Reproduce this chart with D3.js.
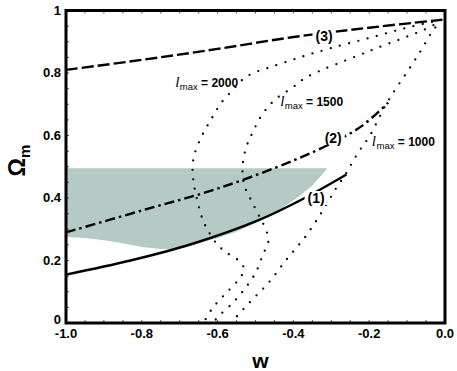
<!DOCTYPE html>
<html>
<head>
<meta charset="utf-8">
<script src="https://cdn.jsdelivr.net/npm/d3@7"></script>
<style>
  body { margin: 0; background: #fff; }
  svg text { font-family: "Liberation Sans", Arial, Helvetica, sans-serif; }
</style>
</head>
<body>
<div id="chart"></div>
<script>
// Tick values
const xTicks = [-1.0, -0.8, -0.6, -0.4, -0.2, 0.0];
const yTicks = [0, 0.2, 0.4, 0.6, 0.8, 1];

// Shaded allowed region (w, lower Omega_m), flat top
const shadeW   = [-1, -0.95, -0.9, -0.85, -0.8, -0.75, -0.7, -0.65, -0.6, -0.55, -0.5, -0.45, -0.42, -0.38, -0.35, -0.33, -0.31];
const shadeLow = [0.275, 0.272, 0.265, 0.255, 0.243, 0.237, 0.238, 0.255, 0.272, 0.292, 0.32, 0.35, 0.375, 0.41, 0.44, 0.467, 0.495];
const shadeTop = 0.495;

// Model curves [w, Omega_m]
const curve1 = [[-1, 0.155], [-0.83, 0.2], [-0.67, 0.252], [-0.49, 0.33], [-0.37, 0.4], [-0.26, 0.475]];
const curve2 = [[-1, 0.29], [-0.8, 0.36], [-0.6, 0.43], [-0.4, 0.52], [-0.3, 0.575], [-0.22, 0.63], [-0.15, 0.705]];
const curve3 = [[-1, 0.81], [-0.8, 0.842], [-0.6, 0.877], [-0.4, 0.915], [-0.2, 0.945], [-0.01, 0.97]];

// l_max contours [w, Omega_m]
const lmax2000 = [[-0.01, 0.97], [-0.1, 0.945], [-0.2, 0.912], [-0.3, 0.88], [-0.37, 0.855], [-0.42, 0.835], [-0.47, 0.815],
  [-0.51, 0.798], [-0.535, 0.778], [-0.555, 0.752], [-0.59, 0.705], [-0.615, 0.656], [-0.64, 0.602], [-0.66, 0.544],
  [-0.666, 0.5], [-0.663, 0.448], [-0.652, 0.384], [-0.639, 0.33], [-0.625, 0.295], [-0.6, 0.25], [-0.575, 0.224],
  [-0.545, 0.2], [-0.53, 0.172], [-0.545, 0.138], [-0.58, 0.093], [-0.615, 0.045], [-0.637, 0]];
const lmax1500 = [[-0.01, 0.97], [-0.04, 0.947], [-0.2, 0.87], [-0.364, 0.787], [-0.404, 0.752], [-0.449, 0.714],
  [-0.483, 0.666], [-0.507, 0.611], [-0.525, 0.56], [-0.534, 0.5], [-0.53, 0.442], [-0.509, 0.387], [-0.488, 0.336],
  [-0.473, 0.3], [-0.466, 0.262], [-0.48, 0.22], [-0.5, 0.16], [-0.533, 0.102], [-0.565, 0.058], [-0.602, 0.016], [-0.61, 0]];
const lmax1000 = [[-0.01, 0.97], [-0.035, 0.93], [-0.066, 0.867], [-0.1, 0.803], [-0.137, 0.736], [-0.16, 0.69],
  [-0.198, 0.6], [-0.23, 0.544], [-0.259, 0.483], [-0.29, 0.426], [-0.325, 0.355], [-0.369, 0.275], [-0.417, 0.205],
  [-0.464, 0.131], [-0.517, 0.064], [-0.565, 0]];

// Labels: text, anchor in data coords
const curveLabels = [
  { text: "(1)", w: -0.34, om: 0.384 },
  { text: "(2)", w: -0.295, om: 0.576 },
  { text: "(3)", w: -0.319, om: 0.902 }
];
const lmaxLabels = [
  { value: "2000", w: -0.712, om: 0.755 },
  { value: "1500", w: -0.435, om: 0.694 },
  { value: "1000", w: -0.193, om: 0.566 }
];

const width = 457, height = 371;
const margin = { top: 10.5, right: 12, bottom: 48, left: 66 };

const svg = d3.select("#chart").append("svg")
  .attr("width", width)
  .attr("height", height);

const x = d3.scaleLinear().domain([-1, 0]).range([margin.left, width - margin.right]);
const y = d3.scaleLinear().domain([0, 1]).range([height - margin.bottom, margin.top]);

// shaded region
const shade = shadeW.map((w, i) => ({ w: w, lo: shadeLow[i] }));
svg.append("path")
  .datum(shade)
  .attr("fill", "#b5cac5")
  .attr("d", d3.area().x(d => x(d.w)).y0(d => y(d.lo)).y1(y(shadeTop)));

const smooth = d3.line().x(d => x(d[0])).y(d => y(d[1])).curve(d3.curveCatmullRom.alpha(0.5));

// dotted l_max contours
[lmax2000, lmax1500, lmax1000].forEach(c => {
  svg.append("path")
    .attr("d", smooth(c))
    .attr("fill", "none")
    .attr("stroke", "#000")
    .attr("stroke-width", 2.3)
    .attr("stroke-linecap", "round")
    .attr("stroke-dasharray", "0,9.5");
});

// model curves
svg.append("path").attr("d", smooth(curve1)).attr("fill", "none")
  .attr("stroke", "#000").attr("stroke-width", 2.4);
svg.append("path").attr("d", smooth(curve2)).attr("fill", "none")
  .attr("stroke", "#000").attr("stroke-width", 2.4)
  .attr("stroke-dasharray", "10,4,2.5,4");
svg.append("path").attr("d", smooth(curve3)).attr("fill", "none")
  .attr("stroke", "#000").attr("stroke-width", 2.4)
  .attr("stroke-dasharray", "12,4");

// curve labels with white backing
curveLabels.forEach(l => {
  const g = svg.append("g");
  const t = g.append("text")
    .attr("x", x(l.w))
    .attr("y", y(l.om))
    .attr("text-anchor", "middle")
    .attr("font-size", 14)
    .attr("font-weight", "bold")
    .text(l.text);
  const b = t.node().getBBox();
  g.insert("rect", "text")
    .attr("x", b.x - 3).attr("y", b.y + 1)
    .attr("width", b.width + 6).attr("height", b.height - 2)
    .attr("fill", "#fff");
});

// l_max labels
lmaxLabels.forEach(l => {
  const t = svg.append("text")
    .attr("x", x(l.w))
    .attr("y", y(l.om))
    .attr("font-size", 12);
  t.append("tspan")
    .attr("font-family", "'Liberation Serif', 'Times New Roman', serif")
    .attr("font-style", "italic")
    .attr("font-size", 15)
    .text("l");
  t.append("tspan")
    .attr("font-size", 9.5)
    .attr("dy", 3)
    .attr("dx", 0.5)
    .text("max");
  t.append("tspan")
    .attr("dy", -3)
    .attr("font-weight", "bold")
    .text(" = " + l.value);
});

// ticks (inward, every 0.05)
const tickG = svg.append("g").attr("stroke", "#555").attr("stroke-width", 1);
d3.range(-1, 0.0001, 0.05).forEach(v => {
  tickG.append("line").attr("x1", x(v)).attr("x2", x(v))
    .attr("y1", y(0)).attr("y2", y(0) - 3);
  tickG.append("line").attr("x1", x(v)).attr("x2", x(v))
    .attr("y1", y(1)).attr("y2", y(1) + 3);
});
d3.range(0, 1.0001, 0.05).forEach(v => {
  tickG.append("line").attr("x1", x(-1)).attr("x2", x(-1) + 3)
    .attr("y1", y(v)).attr("y2", y(v));
});

// frame
svg.append("rect")
  .attr("x", x(-1)).attr("y", y(1))
  .attr("width", x(0) - x(-1)).attr("height", y(0) - y(1))
  .attr("fill", "none")
  .attr("stroke", "#000")
  .attr("stroke-width", 3);

// tick labels
svg.append("g").selectAll("text")
  .data(xTicks)
  .join("text")
  .attr("x", d => x(d))
  .attr("y", y(0) + 15)
  .attr("text-anchor", "middle")
  .attr("font-size", 13)
  .attr("font-weight", "bold")
  .text(d => d.toFixed(1));

svg.append("g").selectAll("text")
  .data(yTicks)
  .join("text")
  .attr("x", x(-1) - 5)
  .attr("y", d => y(d) + (d === 0 ? 1 : 4))
  .attr("text-anchor", "end")
  .attr("font-size", 13)
  .attr("font-weight", "bold")
  .text(d => String(d));

// axis titles
svg.append("text")
  .attr("x", (x(-1) + x(0)) / 2 + 5)
  .attr("y", 368)
  .attr("text-anchor", "middle")
  .attr("font-size", 21)
  .attr("font-weight", "bold")
  .text("w");

const yt = svg.append("text")
  .attr("transform", `translate(25,${y(0.52)}) rotate(-90)`)
  .attr("text-anchor", "middle")
  .attr("font-size", 23)
  .attr("font-weight", "bold");
yt.append("tspan").text("Ω");
yt.append("tspan").attr("font-size", 15).attr("dy", 5).text("m");
</script>
</body>
</html>
